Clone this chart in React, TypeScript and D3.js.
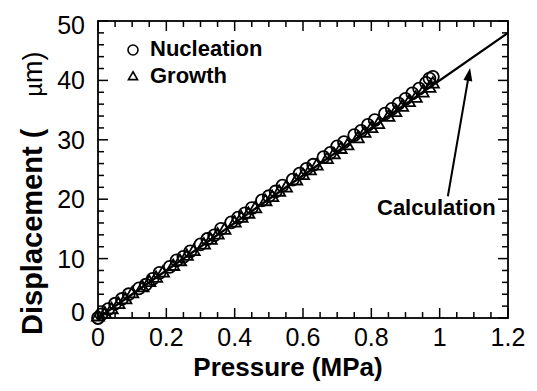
import React from "react";
import * as d3 from "d3";

const nucP = [0, 0.01, 0.03, 0.05, 0.07, 0.09, 0.12, 0.14, 0.16, 0.18, 0.21, 0.23, 0.25, 0.27, 0.3, 0.32, 0.34, 0.36, 0.39, 0.41, 0.43, 0.45, 0.48, 0.5, 0.52, 0.54, 0.57, 0.59, 0.61, 0.63, 0.66, 0.68, 0.7, 0.72, 0.75, 0.77, 0.79, 0.81, 0.84, 0.86, 0.88, 0.9, 0.92, 0.94, 0.96, 0.97, 0.98];
const nucD = [0, 0.6, 1.5, 2.4, 3.2, 4.0, 5.0, 5.6, 6.6, 7.6, 8.6, 9.7, 10.3, 11.2, 12.4, 13.3, 13.9, 15.0, 16.1, 16.9, 17.6, 18.5, 19.8, 20.5, 21.3, 22.3, 23.3, 24.3, 25.1, 25.8, 27.1, 27.8, 28.9, 29.6, 30.8, 31.5, 32.5, 33.3, 34.4, 35.2, 36.1, 36.9, 37.8, 38.6, 39.6, 40.3, 40.6];
const groP = [0, 0.02, 0.04, 0.06, 0.08, 0.1, 0.13, 0.15, 0.17, 0.19, 0.22, 0.24, 0.26, 0.28, 0.31, 0.33, 0.35, 0.37, 0.4, 0.42, 0.44, 0.46, 0.49, 0.51, 0.53, 0.55, 0.58, 0.6, 0.62, 0.64, 0.67, 0.69, 0.71, 0.73, 0.76, 0.78, 0.8, 0.82, 0.85, 0.87, 0.89, 0.91, 0.93, 0.95, 0.97, 0.98];
const groD = [0, 0.5, 1.2, 2.1, 2.9, 3.9, 4.9, 5.8, 6.5, 7.4, 8.5, 9.3, 10.2, 11.0, 12.1, 12.9, 13.8, 14.6, 15.8, 16.6, 17.3, 18.2, 19.4, 20.1, 21.0, 21.7, 22.9, 23.8, 24.6, 25.4, 26.5, 27.3, 28.2, 28.8, 30.0, 30.9, 31.7, 32.4, 33.6, 34.4, 35.3, 36.1, 36.8, 37.7, 38.5, 39.2];
const calcP = [0, 1.2];
const calcD = [0, 48];
const arrowFrom = [1.024, 20.5];
const arrowTo = [1.089, 42.1];
const xTickLabels = ["0", "0.2", "0.4", "0.6", "0.8", "1", "1.2"];
const yTickLabels = ["0", "10", "20", "30", "40", "50"];

const W = 537, H = 391;
const L = 98, R = 508, T = 21, B = 318;

export default function App() {
  const x = d3.scaleLinear().domain([0, 1.2]).range([L, R]);
  const y = d3.scaleLinear().domain([0, 50]).range([B, T]);
  const xMinor = d3.range(0, 1.2001, 0.05);
  const yMinor = d3.range(0, 50.001, 2);
  const xMajor = xTickLabels.map(Number);
  const yMajor = yTickLabels.map(Number);
  const line = d3.line<number>().x((_, i) => x(calcP[i])).y((_, i) => y(calcD[i]));
  const tri = d3.symbol().type(d3.symbolTriangle).size(64)();
  const ax = x(arrowFrom[0]), ay = y(arrowFrom[1]);
  const bx = x(arrowTo[0]), by = y(arrowTo[1]);
  const ang = Math.atan2(by - ay, bx - ax);
  const hl = 13, hw = 4.5;
  const head = [
    [bx, by],
    [bx - hl * Math.cos(ang) + hw * Math.sin(ang), by - hl * Math.sin(ang) - hw * Math.cos(ang)],
    [bx - hl * Math.cos(ang) - hw * Math.sin(ang), by - hl * Math.sin(ang) + hw * Math.cos(ang)],
  ];
  const font = "Liberation Sans, Arial, Helvetica, sans-serif";
  return (
    <svg width={W} height={H} style={{ position: "absolute", left: 0, top: 0, background: "#fff" }} fontFamily={font}>
      <rect x={0} y={0} width={W} height={H} fill="#fff" />
      {/* ticks */}
      <g stroke="#000" strokeWidth={1.5}>
        {xMinor.map((v, i) => {
          const major = xMajor.some((m) => Math.abs(m - v) < 1e-6);
          const len = major ? 10 : 6;
          return (
            <g key={"x" + i}>
              <line x1={x(v)} x2={x(v)} y1={B} y2={B - len} />
              <line x1={x(v)} x2={x(v)} y1={T} y2={T + len} />
            </g>
          );
        })}
        {yMinor.map((v, i) => {
          const major = yMajor.some((m) => Math.abs(m - v) < 1e-6);
          const len = major ? 10 : 6;
          return (
            <g key={"y" + i}>
              <line x1={L} x2={L + len} y1={y(v)} y2={y(v)} />
              <line x1={R} x2={R - len} y1={y(v)} y2={y(v)} />
            </g>
          );
        })}
      </g>
      <rect x={L} y={T} width={R - L} height={B - T} fill="none" stroke="#000" strokeWidth={1.8} />
      {/* tick labels */}
      {xTickLabels.map((t, i) => (
        <text key={"xl" + i} x={x(xMajor[i])} y={346} fontSize={25} textAnchor="middle" fill="#000">{t}</text>
      ))}
      {yTickLabels.map((t, i) => {
        let yy = y(yMajor[i]) + 9;
        if (i === 0) yy -= 6;
        if (i === yTickLabels.length - 1) yy += 4;
        return (
          <text key={"yl" + i} x={85} y={yy} fontSize={25} textAnchor="end" fill="#000">{t}</text>
        );
      })}
      {/* axis titles */}
      <text x={288} y={376} fontSize={26} fontWeight="bold" textAnchor="middle" fill="#000">Pressure (MPa)</text>
      <text transform="translate(42,335) rotate(-90)" fontSize={29} fontWeight="bold" fill="#000">
        Displacement (
        <tspan dx={32} fontWeight="normal" fontSize={24}>µ</tspan>
        <tspan fontWeight="normal" fontSize={27}>m)</tspan>
      </text>
      {/* calculation line */}
      <path d={line(calcP) || ""} fill="none" stroke="#000" strokeWidth={2.4} />
      {/* data */}
      <g fill="none" stroke="#000" strokeWidth={1.8}>
        {nucP.map((p, i) => (
          <circle key={"n" + i} cx={x(p)} cy={y(nucD[i])} r={6} />
        ))}
        {groP.map((p, i) => (
          <path key={"g" + i} d={tri || ""} transform={`translate(${x(p)},${y(groD[i]) - 1})`} />
        ))}
      </g>
      {/* arrow */}
      <line x1={ax} y1={ay} x2={bx - 10 * Math.cos(ang)} y2={by - 10 * Math.sin(ang)} stroke="#000" strokeWidth={2} />
      <polygon points={head.map((p) => p.join(",")).join(" ")} fill="#000" />
      <text x={377} y={215} fontSize={22} fontWeight="bold" fill="#000">Calculation</text>
      {/* legend */}
      <circle cx={133} cy={50} r={5} fill="none" stroke="#000" strokeWidth={1.6} />
      <path d={d3.symbol().type(d3.symbolTriangle).size(36)() || ""} transform="translate(133,77)" fill="none" stroke="#000" strokeWidth={1.6} />
      <text x={150} y={56} fontSize={22} fontWeight="bold" fill="#000">Nucleation</text>
      <text x={150} y={83} fontSize={22} fontWeight="bold" fill="#000">Growth</text>
    </svg>
  );
}
